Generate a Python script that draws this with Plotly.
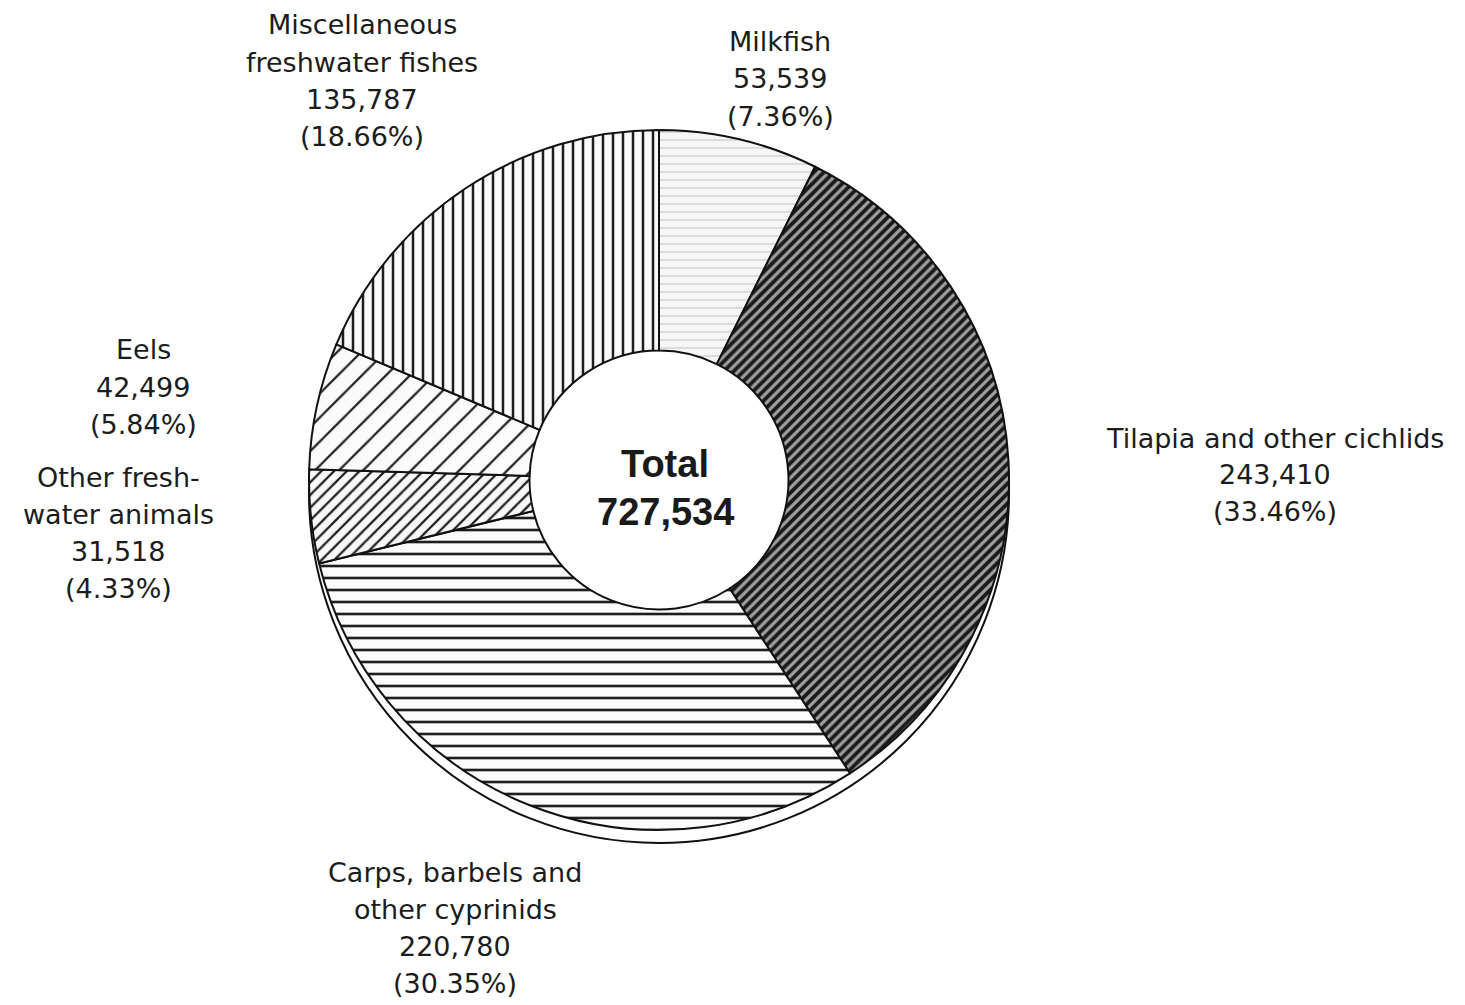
import plotly.graph_objects as go

# ---- data ----
categories = [
    "Milkfish",
    "Tilapia and other cichlids",
    "Carps, barbels and other cyprinids",
    "Other freshwater animals",
    "Eels",
    "Miscellaneous freshwater fishes",
]
label_lines = [
    ["Milkfish"],
    ["Tilapia and other cichlids"],
    ["Carps, barbels and", "other cyprinids"],
    ["Other fresh-", "water animals"],
    ["Eels"],
    ["Miscellaneous", "freshwater fishes"],
]
values = [53539, 243410, 220780, 31518, 42499, 135787]
shares = [7.36, 33.46, 30.35, 4.33, 5.84, 18.66]
total_value = 727534

# ---- styles ----
W, H = 1465, 1005
PAGE_OFF = 8  # default body margin of the html page


def fx(px):
    return (px - PAGE_OFF) / W


def fy(py):
    return 1 - (py - PAGE_OFF) / H


patterns = [
    dict(shape="-", fgcolor="#d6d6d6", bgcolor="#f6f6f6", size=8, solidity=0.2),
    dict(shape="/", fgcolor="#1a1a1a", bgcolor="#a0a0a0", size=7, solidity=0.55),
    dict(shape="-", fgcolor="#1e1e1e", bgcolor="#fbfbfb", size=12, solidity=0.22),
    dict(shape="/", fgcolor="#1e1e1e", bgcolor="#f8f8f8", size=9, solidity=0.25),
    dict(shape="/", fgcolor="#1e1e1e", bgcolor="#fbfbfb", size=17, solidity=0.13),
    dict(shape="|", fgcolor="#1e1e1e", bgcolor="#fbfbfb", size=10, solidity=0.25),
]
# label anchor (center x, first line y) in pixels
label_pos = [(780, 42), (1275, 438), (455, 872), (118, 477), (143, 350), (362, 25)]
line_step = 37
label_font = "DejaVu Sans, Verdana, sans-serif"
total_font = "Liberation Sans, Arial, sans-serif"

cx, cy, r = 659, 480, 350

fig = go.Figure()
fig.add_trace(go.Pie(
    labels=categories,
    values=values,
    sort=False,
    direction="clockwise",
    rotation=0,
    hole=0.37,
    textinfo="none",
    showlegend=False,
    marker=dict(
        colors=[p["bgcolor"] for p in patterns],
        line=dict(color="#111111", width=2),
        pattern=dict(
            shape=[p["shape"] for p in patterns],
            fgcolor=[p["fgcolor"] for p in patterns],
            bgcolor=[p["bgcolor"] for p in patterns],
            size=[p["size"] for p in patterns],
            solidity=[p["solidity"] for p in patterns],
        ),
    ),
    domain=dict(x=[fx(cx - r), fx(cx + r)], y=[fy(cy + r), fy(cy - r)]),
))

# 3D rim under the pie
off = 13
fig.add_shape(type="circle", xref="paper", yref="paper", layer="below",
              x0=fx(cx - r), x1=fx(cx + r),
              y0=fy(cy + r + off), y1=fy(cy - r + off),
              fillcolor="white", line=dict(color="#111111", width=2))

annotations = []
for lines, v, s, (lx, ly) in zip(label_lines, values, shares, label_pos):
    all_lines = lines + [f"{v:,}", f"({s:.2f}%)"]
    for i, t in enumerate(all_lines):
        annotations.append(dict(
            x=fx(lx), y=fy(ly + i * line_step), xref="paper", yref="paper",
            text=t, showarrow=False, xanchor="center", yanchor="middle",
            font=dict(family=label_font, size=27, color="#1c1c1c"),
        ))
annotations.append(dict(x=fx(665), y=fy(464), xref="paper", yref="paper", text="<b>Total</b>",
                        showarrow=False, xanchor="center", yanchor="middle",
                        font=dict(family=total_font, size=38, color="#1a1a1a")))
annotations.append(dict(x=fx(665), y=fy(512), xref="paper", yref="paper",
                        text=f"<b>{total_value:,}</b>",
                        showarrow=False, xanchor="center", yanchor="middle",
                        font=dict(family=total_font, size=38, color="#1a1a1a")))

fig.update_layout(
    width=W, height=H,
    margin=dict(l=0, r=0, t=0, b=0),
    paper_bgcolor="white", plot_bgcolor="white",
    annotations=annotations,
)
fig.write_html("out.html")
